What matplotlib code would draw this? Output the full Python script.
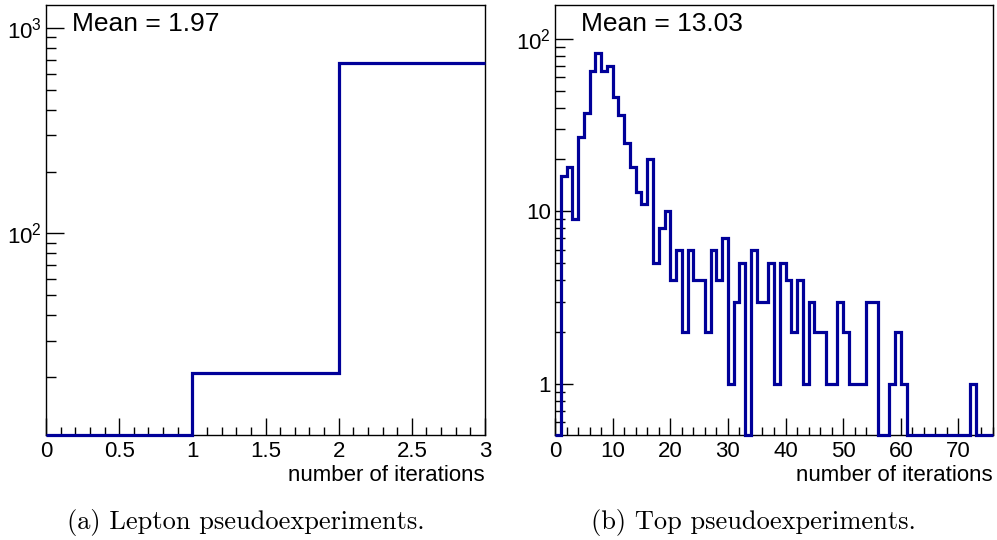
"""
Number-of-iterations histograms for the lepton and top pseudoexperiments,
drawn in the ROOT look (log y axis, step outline, inward ticks).
"""

import matplotlib

matplotlib.use("Agg")
import matplotlib.pyplot as plt
import numpy as np
from matplotlib.ticker import FixedLocator, LogLocator, MultipleLocator, NullFormatter

plt.rcParams["font.family"] = ["Liberation Sans", "DejaVu Sans"]
plt.rcParams["mathtext.fontset"] = "custom"
plt.rcParams["mathtext.rm"] = "Liberation Sans"
plt.rcParams["mathtext.it"] = "Liberation Sans"

LINE_COLOR = "#000099"

# ---- data ----------------------------------------------------------------
lepton_edges = [0, 1, 2, 3]
lepton_counts = [0, 21, 677]
lepton_mean = "Mean = 1.97"

top_counts = [
    0, 16, 18, 9, 27, 37, 65, 83, 65, 70,      # 0-9
    46, 36, 25, 18, 13, 11, 20, 5, 8, 10,      # 10-19
    4, 6, 2, 6, 4, 4, 2, 6, 4, 7,              # 20-29
    1, 3, 5, 0, 6, 3, 3, 5, 1, 5,              # 30-39
    4, 2, 4, 1, 3, 2, 2, 1, 1, 3,              # 40-49
    2, 1, 1, 1, 3, 3, 0, 0, 1, 2,              # 50-59
    1, 0, 0, 0, 0, 0, 0, 0, 0, 0,              # 60-69
    0, 0, 1, 0, 0, 0,                          # 70-75
]
top_edges = list(range(len(top_counts) + 1))
top_mean = "Mean = 13.03"

captions = ["(a) Lepton pseudoexperiments.", "(b) Top pseudoexperiments."]
x_label = "number of iterations"


def style_axes(ax, xmajor, xminor):
    ax.tick_params(which="both", direction="in", top=False, right=False,
                   width=1.0, color="black", labelsize=16)
    ax.tick_params(axis="x", which="major", length=12, pad=4)
    ax.tick_params(axis="x", which="minor", length=6)
    ax.tick_params(axis="y", which="major", length=13, pad=3)
    ax.tick_params(axis="y", which="minor", length=7)
    ax.xaxis.set_major_locator(MultipleLocator(xmajor))
    ax.xaxis.set_minor_locator(MultipleLocator(xminor))
    ax.yaxis.set_minor_locator(LogLocator(base=10, subs=np.arange(2, 10)))
    ax.yaxis.set_minor_formatter(NullFormatter())
    for side in ax.spines.values():
        side.set_linewidth(1.0)
        side.set_color("black")


def draw_hist(ax, edges, counts, ylim, mean_text):
    ax.set_yscale("log")
    ax.set_ylim(*ylim)
    ax.set_xlim(edges[0], edges[-1])
    # empty bins sit on the lower frame, as ROOT draws them
    shown = np.maximum(np.asarray(counts, dtype=float), ylim[0])
    ax.stairs(shown, edges, baseline=None, color=LINE_COLOR, linewidth=2.3,
              zorder=5, clip_on=False)
    ax.text(0.059, 0.983, mean_text, transform=ax.transAxes, ha="left",
            va="top", fontsize=19)
    ax.text(1.0, -0.069, x_label, transform=ax.transAxes, ha="right",
            va="top", fontsize=16)


fig = plt.figure(figsize=(9.97, 5.40), dpi=100)
ax_l = fig.add_axes([46 / 997, 105 / 540, 439 / 997, 430 / 540])
ax_r = fig.add_axes([555 / 997, 105 / 540, 438 / 997, 430 / 540])

draw_hist(ax_l, lepton_edges, lepton_counts, (10.45, 1294), lepton_mean)
style_axes(ax_l, 0.5, 0.1)
ax_l.xaxis.set_major_formatter(matplotlib.ticker.FuncFormatter(
    lambda v, _: f"{v:g}"))
ax_l.yaxis.set_major_locator(FixedLocator([100, 1000]))
ax_l.set_yticklabels([r"$10^{2}$", r"$10^{3}$"])

draw_hist(ax_r, top_edges, top_counts, (0.507, 157), top_mean)
style_axes(ax_r, 10, 2)
ax_r.yaxis.set_major_locator(FixedLocator([1, 10, 100]))
ax_r.set_yticklabels(["1", "10", r"$10^{2}$"])

fig.text(246 / 997, 1 - 522 / 540, captions[0], family="cmr10", fontsize=19,
         ha="center", va="center")
fig.text(753 / 997, 1 - 522 / 540, captions[1], family="cmr10", fontsize=19,
         ha="center", va="center")

fig.savefig("out.png", dpi=100)
